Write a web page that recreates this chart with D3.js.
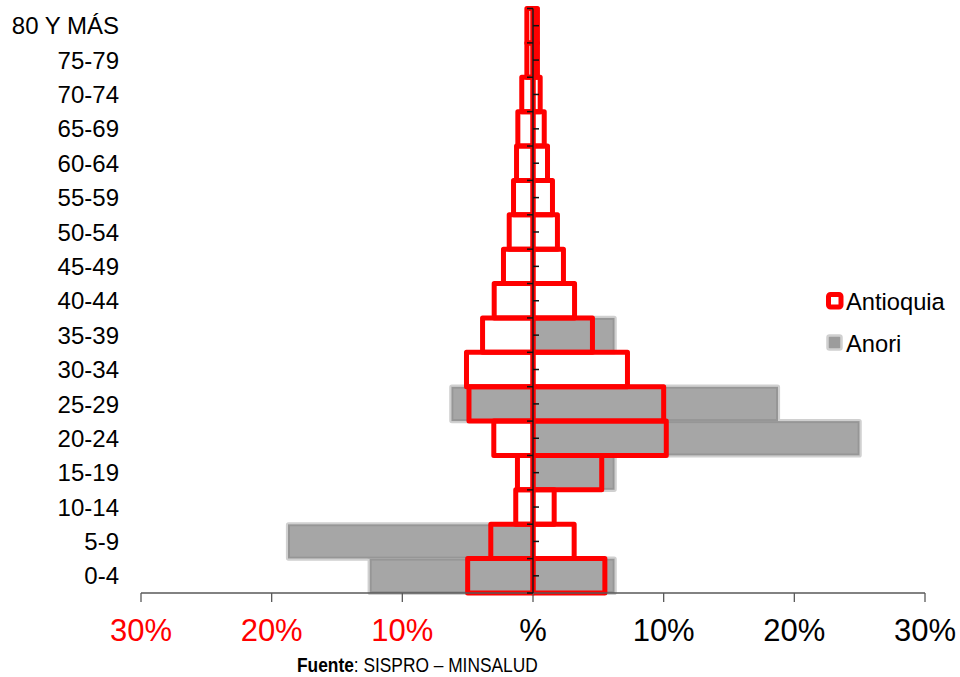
<!DOCTYPE html>
<html>
<head>
<meta charset="utf-8">
<script src="https://cdn.jsdelivr.net/npm/d3@7"></script>
<style>
  html, body { margin: 0; padding: 0; background: #fff; }
  svg { display: block; font-family: "Liberation Sans", Arial, sans-serif; }
</style>
</head>
<body>
<svg id="chart" width="960" height="677"></svg>
<script>
// Age groups, youngest first (drawn bottom to top)
const ageGroups = ["0-4", "5-9", "10-14", "15-19", "20-24", "25-29", "30-34", "35-39",
  "40-44", "45-49", "50-54", "55-59", "60-64", "65-69", "70-74", "75-79", "80 Y MÁS"];

// Share of total population (%) — left side / right side of the pyramid
const antioquiaLeft  = [5.0, 3.23, 1.32, 1.19, 3.0, 4.9, 5.09, 3.86, 2.97, 2.26, 1.82, 1.49, 1.26, 1.16, 0.86, 0.47, 0.47];
const antioquiaRight = [5.5, 3.15, 1.62, 5.26, 10.2, 10.0, 7.23, 4.55, 3.18, 2.33, 1.87, 1.49, 1.11, 0.86, 0.55, 0.34, 0.34];
const anoriLeft  = [12.5, 18.75, 0, 0, 0, 6.25, 0, 0, 0, 0, 0, 0, 0, 0, 0, 0, 0];
const anoriRight = [6.25, 0, 0, 6.25, 25, 18.75, 0, 6.25, 0, 0, 0, 0, 0, 0, 0, 0, 0];

// Axis ticks and their labels
const xTicks = [-30, -20, -10, 0, 10, 20, 30];
const xTickLabels = ["30%", "20%", "10%", "%", "10%", "20%", "30%"];

const seriesNames = ["Antioquia", "Anori"];

const svg = d3.select("#chart");

const x = d3.scaleLinear().domain([-30, 30]).range([141, 925]);
const y = d3.scaleBand().domain(ageGroups).range([593, 8.5]).padding(0);

// --- Anori: grey filled bars with a soft light halo and darker rim ---
const anoriRows = [];
ageGroups.forEach((g, i) => {
  if (anoriLeft[i] > 0) anoriRows.push({ g, x0: x(-anoriLeft[i]), x1: x(0) });
  if (anoriRight[i] > 0) anoriRows.push({ g, x0: x(0), x1: x(anoriRight[i]) });
});

const grey = svg.append("g");
grey.selectAll("rect.halo").data(anoriRows).join("rect")
  .attr("class", "halo")
  .attr("x", d => d.x0 - 1).attr("y", d => y(d.g) - 1)
  .attr("width", d => d.x1 - d.x0 + 2).attr("height", y.bandwidth() + 2)
  .attr("fill", "none").attr("stroke", "#d0d0d0").attr("stroke-width", 2.2)
  .attr("rx", 1.5);
grey.selectAll("rect.bar").data(anoriRows).join("rect")
  .attr("class", "bar")
  .attr("x", d => d.x0 + 1).attr("y", d => y(d.g) + 1)
  .attr("width", d => d.x1 - d.x0 - 2).attr("height", y.bandwidth() - 2)
  .attr("fill", "#a6a6a6").attr("stroke", "#969696").attr("stroke-width", 2);

// --- Antioquia: red outlined bars, transparent inside ---
const antRows = [];
ageGroups.forEach((g, i) => {
  antRows.push({ g, x0: x(-antioquiaLeft[i]), x1: x(0) });
  antRows.push({ g, x0: x(0), x1: x(antioquiaRight[i]) });
});
svg.append("g").selectAll("rect").data(antRows).join("rect")
  .attr("x", d => d.x0).attr("y", d => y(d.g))
  .attr("width", d => d.x1 - d.x0).attr("height", y.bandwidth())
  .attr("fill", "none").attr("stroke", "#ff0000").attr("stroke-width", 5)
  .attr("stroke-linejoin", "round");

// --- Horizontal (value) axis ---
const xAxis = svg.append("g").attr("transform", "translate(0,593)");
xAxis.append("line")
  .attr("x1", x(-30)).attr("x2", x(30))
  .attr("stroke", "#595959").attr("stroke-width", 1.3);
xAxis.selectAll("line.tick").data(xTicks).join("line")
  .attr("class", "tick")
  .attr("x1", d => x(d)).attr("x2", d => x(d))
  .attr("y1", 0).attr("y2", 9)
  .attr("stroke", "#595959").attr("stroke-width", 1.3);
xAxis.selectAll("text").data(xTicks).join("text")
  .attr("x", d => x(d)).attr("y", 48)
  .attr("text-anchor", "middle")
  .attr("font-size", 31)
  .attr("fill", d => d < 0 ? "#ff0000" : "#000")
  .text((d, i) => xTickLabels[i]);

// --- Vertical (category) axis through zero ---
const yAxis = svg.append("g");
yAxis.append("line")
  .attr("x1", x(0)).attr("x2", x(0))
  .attr("y1", y.range()[1]).attr("y2", 593)
  .attr("stroke", "#2a1a1a").attr("stroke-width", 1.6);
// ticks at band edges (left side) and band centres (right side)
const edges = ageGroups.map(g => y(g)).concat([593]);
yAxis.selectAll("line.edge").data(edges).join("line")
  .attr("class", "edge")
  .attr("x1", x(0) - 6).attr("x2", x(0))
  .attr("y1", d => d).attr("y2", d => d)
  .attr("stroke", "#111").attr("stroke-width", 1.5);
yAxis.selectAll("line.mid").data(ageGroups).join("line")
  .attr("class", "mid")
  .attr("x1", x(0)).attr("x2", x(0) + 6)
  .attr("y1", d => y(d) + y.bandwidth() / 2).attr("y2", d => y(d) + y.bandwidth() / 2)
  .attr("stroke", "#111").attr("stroke-width", 1.5);

// Category labels
svg.append("g").selectAll("text").data(ageGroups).join("text")
  .attr("x", 119)
  .attr("y", d => y(d) + y.bandwidth() / 2)
  .attr("dy", "0.36em")
  .attr("text-anchor", "end")
  .attr("font-size", 24)
  .attr("fill", "#000")
  .text(d => d);

// --- Legend ---
const legend = svg.append("g");
legend.append("rect")
  .attr("x", 828.5).attr("y", 294.5).attr("width", 12.5).attr("height", 12.5)
  .attr("rx", 2).attr("fill", "#fff").attr("stroke", "#ff0000").attr("stroke-width", 5);
legend.append("rect")
  .attr("x", 827.5).attr("y", 335.5).attr("width", 14).attr("height", 14)
  .attr("rx", 2).attr("fill", "#9c9c9c").attr("stroke", "#d0d0d0").attr("stroke-width", 2.5);
legend.selectAll("text").data(seriesNames).join("text")
  .attr("x", 846)
  .attr("y", (d, i) => [301.5, 343][i])
  .attr("dy", "0.36em")
  .attr("font-size", 23.7)
  .attr("fill", "#000")
  .text(d => d);

// --- Source note (narrow lettering via horizontal squeeze) ---
const srcNote = svg.append("text")
  .attr("transform", "translate(297,672) scale(0.867,1)")
  .attr("font-size", 20)
  .attr("fill", "#000");
srcNote.append("tspan").attr("font-weight", "bold").text("Fuente");
srcNote.append("tspan").text(": SISPRO – MINSALUD");
</script>
</body>
</html>
